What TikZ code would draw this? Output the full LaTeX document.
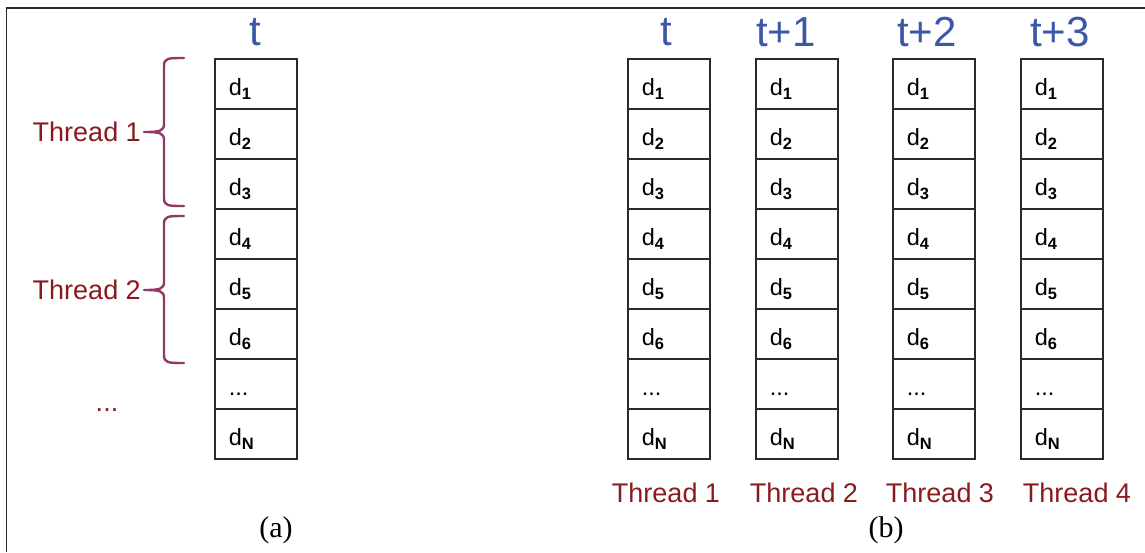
\documentclass[tikz,border=0pt]{standalone}
\usepackage{fontspec}
\setmainfont{Liberation Sans}
\newfontfamily\seriffont{Liberation Serif}
\definecolor{tblue}{HTML}{3B57A8}
\definecolor{thred}{HTML}{8B1A1F}
\definecolor{brc}{HTML}{8F3A64}
\definecolor{frm}{HTML}{2A2A2A}
\tikzset{
  cell/.style={draw=frm, line width=1.6pt, minimum width=82pt, minimum height=50pt,
    text width=54pt, inner xsep=14pt, inner ysep=0pt, align=left,
    font=\fontsize{23.5}{27}\selectfont, anchor=north west},
  tlabel/.style={text=tblue, font=\fontsize{42}{46}\selectfont, inner sep=0pt},
  thlabel/.style={text=thred, font=\fontsize{27}{30}\selectfont, inner sep=0pt},
  caplabel/.style={font=\seriffont\fontsize{30}{34}\selectfont, inner sep=0pt},
  bracestyle/.style={draw=brc, line width=2.4pt, line cap=round, line join=round}
}
\newcommand{\dsub}[1]{d\textsubscript{\textbf{#1}}}
\newcommand{\mydots}{...}
\newcommand{\low}[1]{\raisebox{-12pt}[0pt][0pt]{#1}}
\begin{document}
\begin{tikzpicture}[x=1pt,y=-1pt]
\useasboundingbox (0,0) rectangle (1145,552);
% frame
\coordinate (fa) at (6.5,552);
\coordinate (fb) at (6.5,8);
\coordinate (fc) at (1145,8);
\draw[frm, line width=1.4pt] (fa) -- (fb) -- (fc);
% columns
\foreach \col/\x in {a/214, b1/627, b2/755, b3/892, b4/1020}{
  \foreach \i/\txt in {1/\dsub{1}, 2/\dsub{2}, 3/\dsub{3}, 4/\dsub{4}, 5/\dsub{5}, 6/\dsub{6}, 7/\mydots, 8/\dsub{N}}{
    \node[cell] (c-\col-\i) at (\x, {58+50*(\i-1)}) {\low{\txt}};
  }
}
% top labels
\node[tlabel] (ta) at (255,32) {t};
\node[tlabel] (tb1) at (666,32) {t};
\node[tlabel] (tb2) at (786,32) {t+1};
\node[tlabel] (tb3) at (927,32) {t+2};
\node[tlabel] (tb4) at (1060,32) {t+3};
% thread labels (a)
\node[thlabel, anchor=east] (th1) at (141,132) {Thread 1};
\node[thlabel, anchor=east] (th2) at (141,290) {Thread 2};
\node[thlabel] (dots) at (107,410) {\mydots};
% braces
\coordinate (b1t) at (184,58);
\coordinate (b1m) at (144,132);
\coordinate (b1b) at (184,206);
\draw[bracestyle] (b1t) .. controls (168,58) and (164,58) .. (164,66)
  -- (164,124) .. controls (164,131) and (160,132) .. (b1m)
  .. controls (160,132) and (164,133) .. (164,140)
  -- (164,198) .. controls (164,206) and (168,206) .. (b1b);
\coordinate (b2t) at (184,216);
\coordinate (b2m) at (144,290);
\coordinate (b2b) at (184,363);
\draw[bracestyle] (b2t) .. controls (168,216) and (164,216) .. (164,224)
  -- (164,282) .. controls (164,289) and (160,290) .. (b2m)
  .. controls (160,290) and (164,291) .. (164,298)
  -- (164,355) .. controls (164,363) and (168,363) .. (b2b);
% thread labels (b)
\node[thlabel] (l1) at (666,493) {Thread 1};
\node[thlabel] (l2) at (804,493) {Thread 2};
\node[thlabel] (l3) at (940,493) {Thread 3};
\node[thlabel] (l4) at (1077,493) {Thread 4};
% captions
\node[caplabel] (capa) at (276,530) {(a)};
\node[caplabel] (capb) at (886,530) {(b)};
\end{tikzpicture}
\end{document}
